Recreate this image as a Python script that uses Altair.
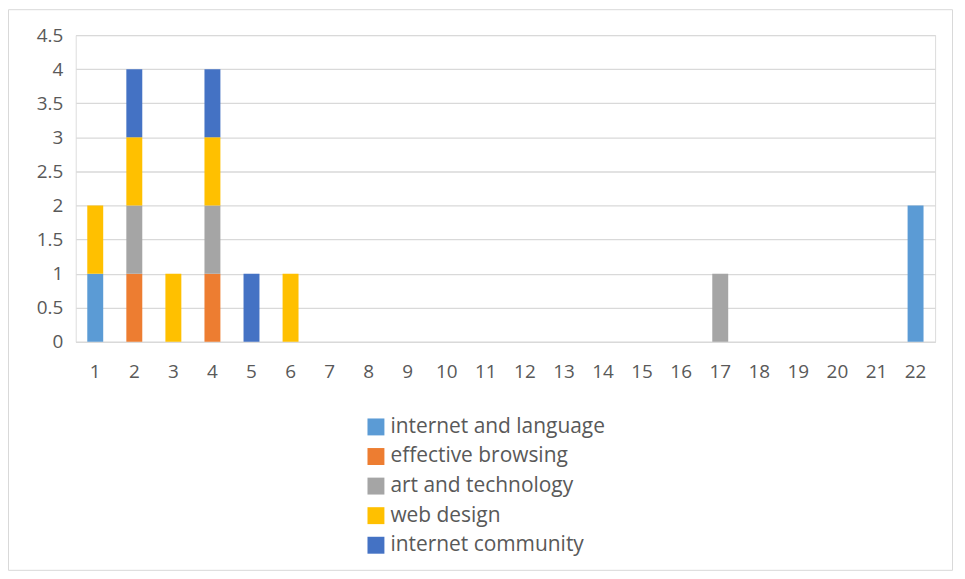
import altair as alt
import pandas as pd

categories = [str(i) for i in range(1, 23)]
series = ["internet and language", "effective browsing", "art and technology",
          "web design", "internet community"]
colors = ["#5B9BD5", "#ED7D31", "#A5A5A5", "#FFC000", "#4472C4"]

internet_and_language = {"1": 1, "22": 2}
effective_browsing = {"2": 1, "4": 1}
art_and_technology = {"2": 1, "4": 1, "17": 1}
web_design = {"1": 1, "2": 1, "3": 1, "4": 1, "6": 1}
internet_community = {"2": 1, "4": 1, "5": 1}

all_vals = [internet_and_language, effective_browsing, art_and_technology,
            web_design, internet_community]
rows = []
for si, (name, vals) in enumerate(zip(series, all_vals)):
    for cat, v in vals.items():
        rows.append({"cat": cat, "series": name, "value": v, "order": si})
df = pd.DataFrame(rows)

FONT = "Open Sans"
W, H = 863, 308

bars = alt.Chart(df).mark_bar(width=16).encode(
    x=alt.X("cat:O", sort=categories,
            scale=alt.Scale(domain=categories, paddingInner=0, paddingOuter=0),
            axis=alt.Axis(title=None, labelAngle=0, ticks=False, domain=True,
                          domainColor="#d9d9d9", labelPadding=21,
                          labelFontSize=19, labelColor="#595959", labelFont=FONT)),
    y=alt.Y("value:Q", stack="zero",
            scale=alt.Scale(domain=[0, 4.5], nice=False),
            axis=alt.Axis(title=None, values=[0, 0.5, 1, 1.5, 2, 2.5, 3, 3.5, 4, 4.5],
                          format="~g", ticks=False, domain=False, gridColor="#d9d9d9",
                          gridWidth=1.3, labelPadding=13, labelFontSize=19,
                          labelColor="#595959", labelFont=FONT)),
    color=alt.Color("series:N", sort=series,
                    scale=alt.Scale(domain=series, range=colors),
                    legend=alt.Legend(title=None, orient="none", legendX=291, legendY=383,
                                      symbolType="square", symbolSize=289,
                                      symbolStrokeWidth=0, labelFontSize=21,
                                      labelFont=FONT, labelColor="#595959",
                                      labelLimit=400,
                                      rowPadding=7.7, padding=0, labelOffset=4)),
    order=alt.Order("order:Q"),
)

border = alt.Chart(pd.DataFrame({"a": [0]})).mark_rect(
    fill=None, stroke="#d9d9d9", strokeWidth=1).encode(
    x=alt.value(-67.5), x2=alt.value(880.5), y=alt.value(-25.5), y2=alt.value(537.5)
)

chart = alt.layer(border, bars).properties(
    width=W, height=H,
    autosize=alt.AutoSizeParams(type="none"),
    padding={"left": 68, "top": 26, "right": 22, "bottom": 235},
).configure_view(stroke=None).configure(background="white")

chart.save("out.html", embed_options={"renderer": "svg", "actions": False})
